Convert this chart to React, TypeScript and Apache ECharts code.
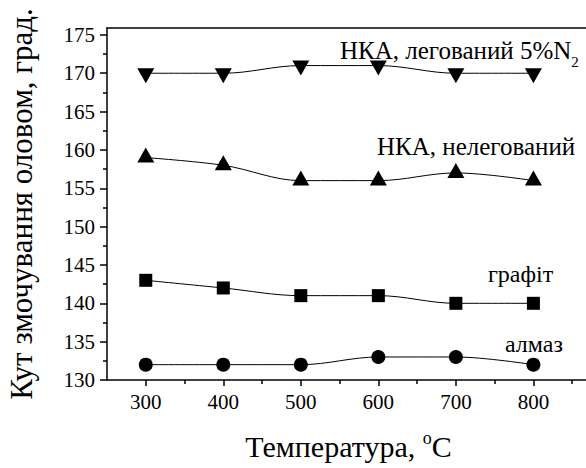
import React, { useEffect, useRef } from 'react';
import * as echarts from 'echarts';

const temperatures = [300, 400, 500, 600, 700, 800];
const dopedValues = [170, 170, 171, 171, 170, 170];
const undopedValues = [159, 158, 156, 156, 157, 156];
const graphiteValues = [143, 142, 141, 141, 140, 140];
const diamondValues = [132, 132, 132, 133, 133, 132];

const xTickValues = [300, 400, 500, 600, 700, 800];
const xMinorTickValues = [350, 450, 550, 650, 750, 850];
const yTickValues = [130, 135, 140, 145, 150, 155, 160, 165, 170, 175];
const yMinorTickValues = [132.5, 137.5, 142.5, 147.5, 152.5, 157.5, 162.5, 167.5, 172.5];

const FONT = '"Times New Roman", "Liberation Serif", "DejaVu Serif", serif';
const BLACK = '#000';

const pairs = (vals: number[]) => temperatures.map((t, i) => [t, vals[i]]);

export default function App() {
  const ref = useRef<HTMLDivElement>(null);

  useEffect(() => {
    if (!ref.current) return;
    const chart = echarts.init(ref.current, undefined, { renderer: 'svg' });
    const axisLineStyle = { color: BLACK, width: 1.5 };
    const xRange = { min: 250, max: 873 };
    const yRange = { min: 130, max: 175.9 };

    const lineSeries = (name: string, vals: number[], symbol: string, size: any, extra: any = {}) => ({
      name,
      type: 'line',
      xAxisIndex: 0,
      yAxisIndex: 0,
      data: pairs(vals),
      smooth: 0.35,
      symbol,
      symbolSize: size,
      showAllSymbol: true,
      lineStyle: { color: BLACK, width: 1 },
      itemStyle: { color: BLACK, borderWidth: 0 },
      emphasis: { disabled: true },
      z: 3,
      ...extra,
    });

    chart.setOption({
      animation: false,
      backgroundColor: '#fff',
      textStyle: { fontFamily: FONT },
      grid: { left: 107, right: -4, top: 28, bottom: 88, containLabel: false, outerBoundsMode: 'none' },
      xAxis: [
        {
          type: 'value',
          ...xRange,
          position: 'bottom',
          axisLine: { show: true, onZero: false, lineStyle: axisLineStyle },
          axisTick: { show: true, inside: false, length: 6, customValues: xTickValues, lineStyle: axisLineStyle },
          axisLabel: {
            show: true,
            customValues: xTickValues,
            fontSize: 21,
            lineHeight: 21,
            fontFamily: FONT,
            color: BLACK,
            margin: 11,
          },
          splitLine: { show: false },
          name: '{a|Температура, }{o|o}{a|C}',
          nameLocation: 'middle',
          nameGap: 48.6,
          nameTextStyle: {
            color: BLACK,
            fontFamily: FONT,
            rich: {
              a: { fontSize: 30, lineHeight: 30, fontFamily: FONT, color: BLACK, verticalAlign: 'top', padding: [3, 0, 0, 0] },
              o: { fontSize: 18, lineHeight: 18, fontFamily: FONT, color: BLACK, verticalAlign: 'top' },
            },
          },
        },
        {
          type: 'value',
          ...xRange,
          position: 'bottom',
          axisLine: { show: false, onZero: false },
          axisTick: { show: true, inside: false, length: 4, customValues: xMinorTickValues, lineStyle: axisLineStyle },
          axisLabel: { show: false },
          splitLine: { show: false },
        },
        {
          type: 'value',
          ...xRange,
          position: 'top',
          axisLine: { show: true, onZero: false, lineStyle: axisLineStyle },
          axisTick: { show: false },
          axisLabel: { show: false },
          splitLine: { show: false },
        },
      ],
      yAxis: [
        {
          type: 'value',
          ...yRange,
          position: 'left',
          axisLine: { show: true, onZero: false, lineStyle: axisLineStyle },
          axisTick: { show: true, inside: false, length: 7, customValues: yTickValues, lineStyle: axisLineStyle },
          axisLabel: {
            show: true,
            customValues: yTickValues,
            fontSize: 21,
            fontFamily: FONT,
            color: BLACK,
            margin: 12,
          },
          splitLine: { show: false },
          name: 'Кут змочування оловом, град.',
          nameLocation: 'middle',
          nameGap: 70,
          nameTextStyle: { color: BLACK, fontFamily: FONT, fontSize: 31, lineHeight: 31 },
        },
        {
          type: 'value',
          ...yRange,
          position: 'left',
          axisLine: { show: false, onZero: false },
          axisTick: { show: true, inside: false, length: 4, customValues: yMinorTickValues, lineStyle: axisLineStyle },
          axisLabel: { show: false },
          splitLine: { show: false },
        },
      ],
      series: [
        lineSeries('НКА, легований 5%N2', dopedValues, 'triangle', [17, 15], { symbolRotate: 180, symbolOffset: [0, 2.5] }),
        lineSeries('НКА, нелегований', undopedValues, 'triangle', [17, 15], { symbolOffset: [0, -2.5] }),
        lineSeries('графіт', graphiteValues, 'rect', 13),
        lineSeries('алмаз', diamondValues, 'circle', 14),
      ],
      graphic: [
        {
          type: 'text',
          x: 340,
          y: 37.6,
          style: {
            text: '{a|НКА, легований 5%N}{s|2}',
            align: 'left',
            verticalAlign: 'top',
            fill: BLACK,
            fontFamily: FONT,
            rich: {
              a: { fontSize: 25, lineHeight: 25, fontFamily: FONT, fill: BLACK, verticalAlign: 'top' },
              s: { fontSize: 15, lineHeight: 15, fontFamily: FONT, fill: BLACK, verticalAlign: 'top', padding: [17.3, 0, 0, 0] },
            },
          },
        },
        {
          type: 'text',
          x: 377,
          y: 134.1,
          style: { text: 'НКА, нелегований', fontSize: 25, lineHeight: 25, fontFamily: FONT, fill: BLACK, align: 'left', verticalAlign: 'top' },
        },
        {
          type: 'text',
          x: 488,
          y: 261.6,
          style: { text: 'графіт', fontSize: 24, lineHeight: 24, fontFamily: FONT, fill: BLACK, align: 'left', verticalAlign: 'top' },
        },
        {
          type: 'text',
          x: 505,
          y: 331.6,
          style: { text: 'алмаз', fontSize: 24, lineHeight: 24, fontFamily: FONT, fill: BLACK, align: 'left', verticalAlign: 'top' },
        },
      ],
    });
    return () => chart.dispose();
  }, []);

  return (
    <div
      ref={ref}
      style={{ position: 'fixed', left: 0, top: 0, width: 586, height: 468, background: '#fff' }}
    />
  );
}
